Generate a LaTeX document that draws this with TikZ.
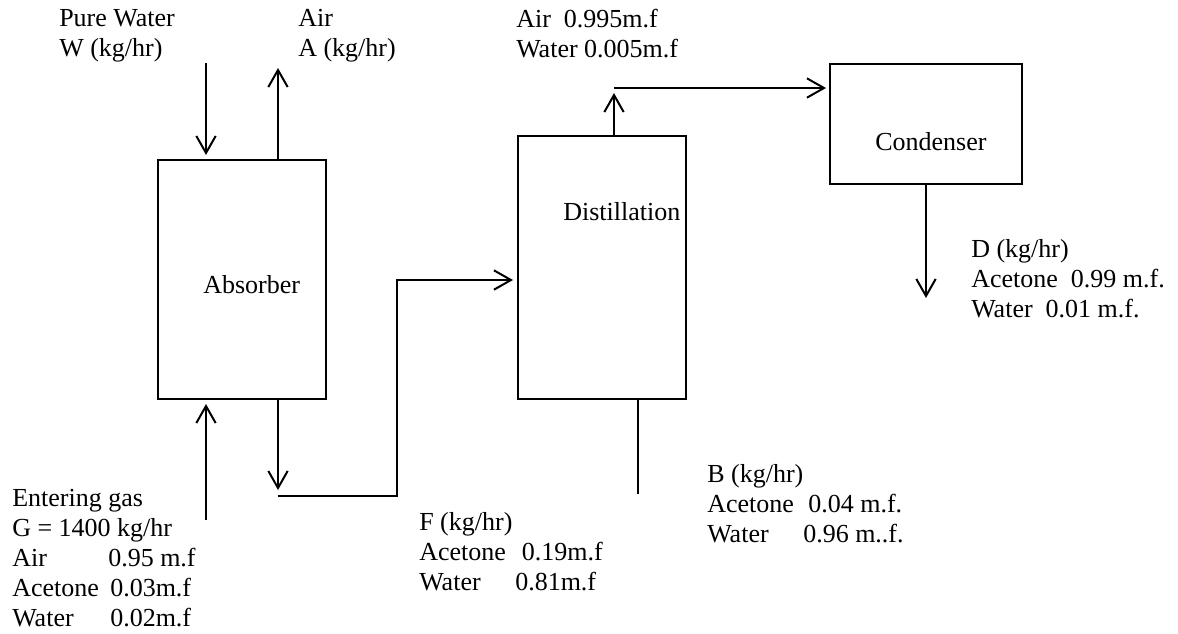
\documentclass[tikz,border=0pt]{standalone}
\usepackage{fontspec}
\setmainfont{Liberation Serif}
\usetikzlibrary{arrows.meta}

\begin{document}
\begin{tikzpicture}[x=0.75pt, y=-0.75pt,
    unit/.style={rectangle, draw=black, line width=1.5pt, outer sep=0pt, inner sep=0pt},
    txt/.style={anchor=north west, inner sep=0pt, align=left, font=\fontsize{19.5}{22.5}\selectfont},
    lbl/.style={anchor=base west, inner sep=0pt, font=\fontsize{19.5}{22.5}\selectfont},
    arrow/.style={line width=1.5pt, -{Straight Barb[length=12.75pt, width=14.5pt]}},
    pipe/.style={line width=1.5pt}
]
\useasboundingbox (0,0) rectangle (1178,633);
\node (absorber) [unit, minimum width=126pt, minimum height=179.25pt] at (242,279.5) {};
\node (distillation) [unit, minimum width=126pt, minimum height=197.25pt] at (602,267.5) {};
\node (condenser) [unit, minimum width=144pt, minimum height=90pt] at (926,124) {};
\node (absLbl) [lbl] at (203,293) {Absorber};
\node (distLbl) [lbl] at (563,220) {Distillation};
\node (condLbl) [lbl] at (875,150) {Condenser};
\node (w) [txt] at (59,9) {Pure Water\\W (kg/hr)};
\node (a) [txt] at (298,9) {Air\\A (kg/hr)};
\node (vap) [txt] at (516,9) {Air\ \ 0.995m.f\\Water 0.005m.f};
\node (g) [txt] at (12,489) {Entering gas\\G = 1400 kg/hr\\\makebox[72pt][l]{Air}0.95 m.f\\\makebox[73.5pt][l]{Acetone}0.03m.f\\\makebox[73.5pt][l]{Water}0.02m.f};
\node (f) [txt] at (419,512) {F (kg/hr)\\\makebox[77pt][l]{Acetone}0.19m.f\\\makebox[72pt][l]{Water}0.81m.f};
\node (b) [txt] at (707,464) {B (kg/hr)\\\makebox[75.75pt][l]{Acetone}0.04 m.f.\\\makebox[72pt][l]{Water}0.96 m..f.};
\node (d) [txt] at (971,239) {D (kg/hr)\\Acetone\ \ 0.99 m.f.\\Water\ \ 0.01 m.f.};
\coordinate (wIn) at (206,63);
\coordinate (aOut) at (278,68);
\coordinate (gIn) at (206,520);
\coordinate (fDrop) at (278,490);
\coordinate (fStart) at (278,496);
\coordinate (fRise) at (397,496);
\coordinate (fTurn) at (397,280);
\coordinate (vTop) at (614,93);
\coordinate (vLine) at (614,88);
\coordinate (bEnd) at (638,494);
\coordinate (dEnd) at (926,298);
\draw [arrow, shorten >=3.75pt] (wIn) -- (wIn |- absorber.north);
\draw [arrow] (aOut |- absorber.north) -- (aOut);
\draw [arrow, shorten >=3.75pt] (gIn) -- (gIn |- absorber.south);
\draw [arrow] (fDrop |- absorber.south) -- (fDrop);
\draw [arrow, shorten >=3.75pt] (fStart) -- (fRise) -- (fTurn) -- (fTurn -| distillation.west);
\draw [arrow] (vTop |- distillation.north) -- (vTop);
\draw [arrow, shorten >=3pt] (vLine) -- (vLine -| condenser.west);
\draw [pipe] (bEnd |- distillation.south) -- (bEnd);
\draw [arrow] (condenser.south) -- (dEnd);
\end{tikzpicture}
\end{document}
